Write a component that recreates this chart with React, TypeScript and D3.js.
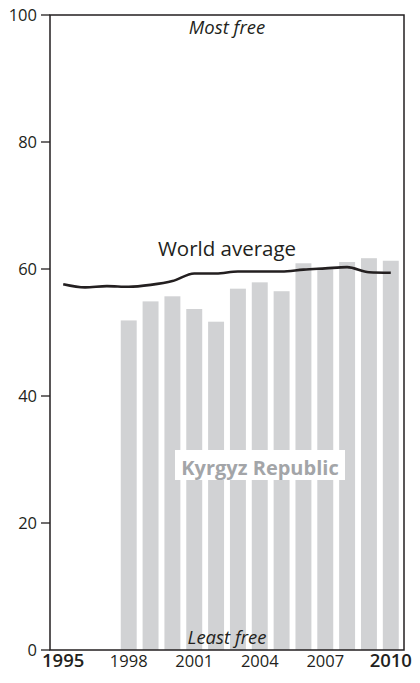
import React from "react";
import * as d3 from "d3";

const years = [1995, 1996, 1997, 1998, 1999, 2000, 2001, 2002, 2003, 2004, 2005, 2006, 2007, 2008, 2009, 2010];
const kyrgyzYears = [1998, 1999, 2000, 2001, 2002, 2003, 2004, 2005, 2006, 2007, 2008, 2009, 2010];
const kyrgyzValues = [51.9, 54.9, 55.7, 53.7, 51.7, 56.9, 57.9, 56.5, 60.9, 60.2, 61.1, 61.7, 61.3];
const worldValues = [57.6, 57.1, 57.3, 57.2, 57.5, 58.1, 59.3, 59.3, 59.6, 59.6, 59.6, 59.9, 60.1, 60.3, 59.5, 59.4];
const yTicks = [0, 20, 40, 60, 80, 100];
const xTickYears = [1995, 1998, 2001, 2004, 2007, 2010];
const boldYears = [1995, 2010];

const W = 420;
const H = 683;
const left = 50;
const right = 404;
const top = 15;
const bottom = 650;
const FONT = "'Open Sans', 'Noto Sans', sans-serif";

export default function App() {
  const x = d3
    .scaleBand<number>()
    .domain(years)
    .range([left, right])
    .paddingInner(0.27)
    .paddingOuter(0.24);
  const y = d3.scaleLinear().domain([0, 100]).range([bottom, top]);
  const cx = (yr: number) => (x(yr) as number) + x.bandwidth() / 2;

  const line = d3
    .line<number>()
    .x((_, i) => cx(years[i]))
    .y((d) => y(d))
    .curve(d3.curveMonotoneX);

  const mid = (left + right) / 2;

  return (
    <svg
      width={W}
      height={H}
      style={{ position: "absolute", left: 0, top: 0, background: "#fff" }}
      fontFamily={FONT}
    >
      {/* bars */}
      {kyrgyzYears.map((yr, i) => (
        <rect
          key={yr}
          x={x(yr)}
          y={y(kyrgyzValues[i])}
          width={x.bandwidth()}
          height={bottom - y(kyrgyzValues[i])}
          fill="#d1d2d4"
        />
      ))}

      {/* world line */}
      <path d={line(worldValues) || ""} fill="none" stroke="#231f20" strokeWidth={2.6} strokeLinejoin="round" />
      <text x={mid} y={256} textAnchor="middle" fontSize={20.5} fill="#231f20">
        World average
      </text>

      {/* series label */}
      <rect x={175} y={450} width={170} height={30} fill="#fff" />
      <text x={260} y={475} textAnchor="middle" fontSize={20} fontWeight={700} fill="#a3a5a8">
        Kyrgyz Republic
      </text>

      {/* annotations */}
      <text x={mid} y={34} textAnchor="middle" fontSize={18.5} fontStyle="italic" fill="#231f20">
        Most free
      </text>
      <text x={mid} y={644} textAnchor="middle" fontSize={18.5} fontStyle="italic" fill="#231f20">
        Least free
      </text>

      {/* frame */}
      <rect x={left} y={top} width={right - left} height={bottom - top} fill="none" stroke="#231f20" strokeWidth={1.5} />

      {/* y ticks */}
      {yTicks.map((t) => (
        <g key={t}>
          <line x1={41} x2={left} y1={y(t)} y2={y(t)} stroke="#231f20" strokeWidth={1.3} />
          <text x={37} y={y(t)} dy="0.35em" textAnchor="end" fontSize={16.5} fill="#231f20">
            {t}
          </text>
        </g>
      ))}

      {/* x labels */}
      {xTickYears.map((yr) => {
        const bold = boldYears.includes(yr);
        return (
          <text
            key={yr}
            x={cx(yr)}
            y={667}
            textAnchor="middle"
            fontSize={bold ? 18.5 : 16.5}
            fontWeight={bold ? 600 : 400}
            fill="#231f20"
          >
            {yr}
          </text>
        );
      })}
    </svg>
  );
}
